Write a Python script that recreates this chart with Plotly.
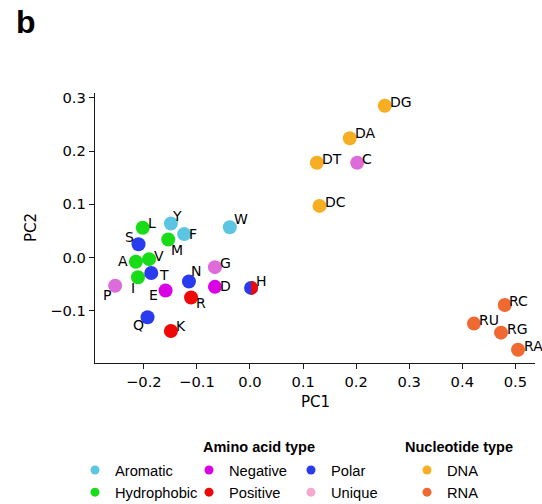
import numpy as np
import plotly.graph_objects as go

# ---------------- data ----------------
aromatic_labels = ["Y", "F", "W"]
aromatic_pc1 = [-0.149, -0.124, -0.038]
aromatic_pc2 = [0.064, 0.044, 0.057]

hydrophobic_labels = ["L", "M", "A", "V", "I"]
hydrophobic_pc1 = [-0.202, -0.154, -0.215, -0.190, -0.211]
hydrophobic_pc2 = [0.056, 0.034, -0.008, -0.003, -0.037]

negative_labels = ["E", "D"]
negative_pc1 = [-0.159, -0.066]
negative_pc2 = [-0.062, -0.055]

positive_labels = ["R", "K"]
positive_pc1 = [-0.111, -0.149]
positive_pc2 = [-0.075, -0.138]

polar_labels = ["S", "T", "N", "Q", "H"]
polar_pc1 = [-0.210, -0.186, -0.115, -0.193, 0.002]
polar_pc2 = [0.025, -0.029, -0.045, -0.112, -0.057]

unique_labels = ["P", "G", "C"]
unique_pc1 = [-0.254, -0.066, 0.202]
unique_pc2 = [-0.053, -0.018, 0.178]

dna_labels = ["DG", "DA", "DT", "DC"]
dna_pc1 = [0.254, 0.188, 0.126, 0.131]
dna_pc2 = [0.285, 0.224, 0.178, 0.097]

rna_labels = ["RC", "RU", "RG", "RA"]
rna_pc1 = [0.480, 0.422, 0.473, 0.505]
rna_pc2 = [-0.089, -0.124, -0.141, -0.173]

# H belongs to both the polar and the positive group (drawn half/half)
dual_label = "H"

x_ticks = [-0.2, -0.1, 0.0, 0.1, 0.2, 0.3, 0.4, 0.5]
y_ticks = [-0.1, 0.0, 0.1, 0.2, 0.3]

# ---------------- style ----------------
COL = {
    "Aromatic": "#5CC6E2",
    "Hydrophobic": "#18DC18",
    "Negative": "#DA00E6",
    "Positive": "#EE0808",
    "Polar": "#2A3AEE",
    "Unique": "#DE6CD8",
    "DNA": "#F6AE22",
    "RNA": "#EF6930",
}
LEGEND_COL = dict(COL, Unique="#F4A8CE")

# label offsets in pixels (dx right, dy down) from the marker centre
label_off = {
    "L": (9, -5), "Y": (6, -7), "F": (9, 0), "W": (11, -8),
    "S": (-9, -7), "M": (9, 11), "A": (-13, -1), "V": (10, -3),
    "T": (13, 2), "I": (-5, 11), "P": (-8, 9), "E": (-12, 4),
    "N": (7, -11), "G": (11, -4), "D": (11, -1), "R": (10, 5),
    "H": (10, -7), "Q": (-9, 8), "K": (10, -5),
    "DG": (16, -4), "DA": (16, -5), "DT": (15, -4), "C": (10, -4),
    "DC": (16, -4), "RC": (14, -4), "RU": (15, -4), "RG": (16, -4),
    "RA": (15, -4),
}

W, H = 542, 504
margin = dict(l=95, r=7, t=93, b=141, autoexpand=False)
xr = [-0.292, 0.537]
yr = [-0.198, 0.309]
MS = 14
FONT = "DejaVu Sans"

groups = [
    ("Aromatic", aromatic_labels, aromatic_pc1, aromatic_pc2),
    ("Hydrophobic", hydrophobic_labels, hydrophobic_pc1, hydrophobic_pc2),
    ("Negative", negative_labels, negative_pc1, negative_pc2),
    ("Positive", positive_labels, positive_pc1, positive_pc2),
    ("Polar", polar_labels, polar_pc1, polar_pc2),
    ("Unique", unique_labels, unique_pc1, unique_pc2),
    ("DNA", dna_labels, dna_pc1, dna_pc2),
    ("RNA", rna_labels, rna_pc1, rna_pc2),
]

fig = go.Figure()
annotations = []
for name, labs, xs, ys in groups:
    fig.add_trace(go.Scatter(
        x=xs, y=ys, mode="markers", text=labs,
        marker=dict(size=MS, color=COL[name], line=dict(width=0)),
        showlegend=False, hoverinfo="text", cliponaxis=False,
    ))
    for l, xv, yv in zip(labs, xs, ys):
        dx, dy = label_off[l]
        annotations.append(dict(
            text=l, x=xv, y=yv, xref="x", yref="y", xshift=dx, yshift=-dy,
            xanchor="center", yanchor="middle", showarrow=False,
            font=dict(family=FONT, size=14, color="black"),
        ))

# red right half for the dual-type residue H
hi = polar_labels.index(dual_label)
hx, hy = polar_pc1[hi], polar_pc2[hi]
pw = W - margin["l"] - margin["r"]
ph = H - margin["t"] - margin["b"]
rx = (MS / 2) * (xr[1] - xr[0]) / pw
ry = (MS / 2) * (yr[1] - yr[0]) / ph
th = np.linspace(-np.pi / 2, np.pi / 2, 40)
fig.add_trace(go.Scatter(
    x=(hx + rx * np.cos(th)).tolist(), y=(hy + ry * np.sin(th)).tolist(), mode="lines",
    fill="toself", fillcolor=COL["Positive"], line=dict(width=0, color=COL["Positive"]),
    showlegend=False, hoverinfo="skip",
))

# legend entries
legend_layout = [
    ("legend", ["Aromatic", "Hydrophobic"], 75),
    ("legend2", ["Negative", "Positive"], 189),
    ("legend3", ["Polar", "Unique"], 291),
    ("legend4", ["DNA", "RNA"], 407),
]
for lg, names, _ in legend_layout:
    for n in names:
        fig.add_trace(go.Scatter(
            x=[None], y=[None], mode="markers", name=n, legend=lg,
            marker=dict(size=9, color=LEGEND_COL[n]),
        ))

legend_common = dict(
    orientation="v", xref="container", yref="container", xanchor="left",
    yanchor="top", y=(H - 454) / H, bgcolor="rgba(0,0,0,0)",
    font=dict(family="Liberation Sans", size=14.7, color="black"),
    tracegroupgap=0, itemclick=False, itemdoubleclick=False,
)
legends = {}
for lg, _, px in legend_layout:
    legends[lg] = dict(legend_common, x=px / W)

axis_common = dict(
    showline=True, linecolor="#1a1a1a", linewidth=1.4, mirror=False,
    ticks="outside", ticklen=5, tickwidth=1.2, tickcolor="#1a1a1a",
    showgrid=False, zeroline=False,
    tickfont=dict(family=FONT, size=14.7, color="black"),
)

def px2paper_x(px):
    return (px - margin["l"]) / pw

def px2paper_y(py):
    return (H - margin["b"] - py) / ph

annotations += [
    dict(text="<b>b</b>", x=px2paper_x(14), y=px2paper_y(22), xref="paper", yref="paper",
         xanchor="left", yanchor="middle", showarrow=False,
         font=dict(family="Liberation Sans", size=32, color="black")),
    dict(text="PC1", x=px2paper_x(315), y=px2paper_y(402), xref="paper", yref="paper",
         xanchor="center", yanchor="middle", showarrow=False,
         font=dict(family=FONT, size=15, color="black")),
    dict(text="PC2", x=px2paper_x(31), y=px2paper_y(228), xref="paper", yref="paper",
         xanchor="center", yanchor="middle", showarrow=False, textangle=-90,
         font=dict(family=FONT, size=15, color="black")),
    dict(text="<b>Amino acid type</b>", x=px2paper_x(259), y=px2paper_y(447),
         xref="paper", yref="paper", xanchor="center", yanchor="middle", showarrow=False,
         font=dict(family="Liberation Sans", size=14.5, color="black")),
    dict(text="<b>Nucleotide type</b>", x=px2paper_x(459), y=px2paper_y(447),
         xref="paper", yref="paper", xanchor="center", yanchor="middle", showarrow=False,
         font=dict(family="Liberation Sans", size=14.5, color="black")),
]

fig.update_layout(
    width=W, height=H, margin=margin,
    paper_bgcolor="white", plot_bgcolor="white",
    xaxis=dict(axis_common, range=xr, tickvals=x_ticks,
               ticktext=[f"{v:.1f}".replace("-", "\u2212") for v in x_ticks]),
    yaxis=dict(axis_common, range=yr, tickvals=y_ticks,
               ticktext=[f"{v:.1f}".replace("-", "\u2212") for v in y_ticks]),
    annotations=annotations,
    **legends,
)

fig.write_html("out.html")
